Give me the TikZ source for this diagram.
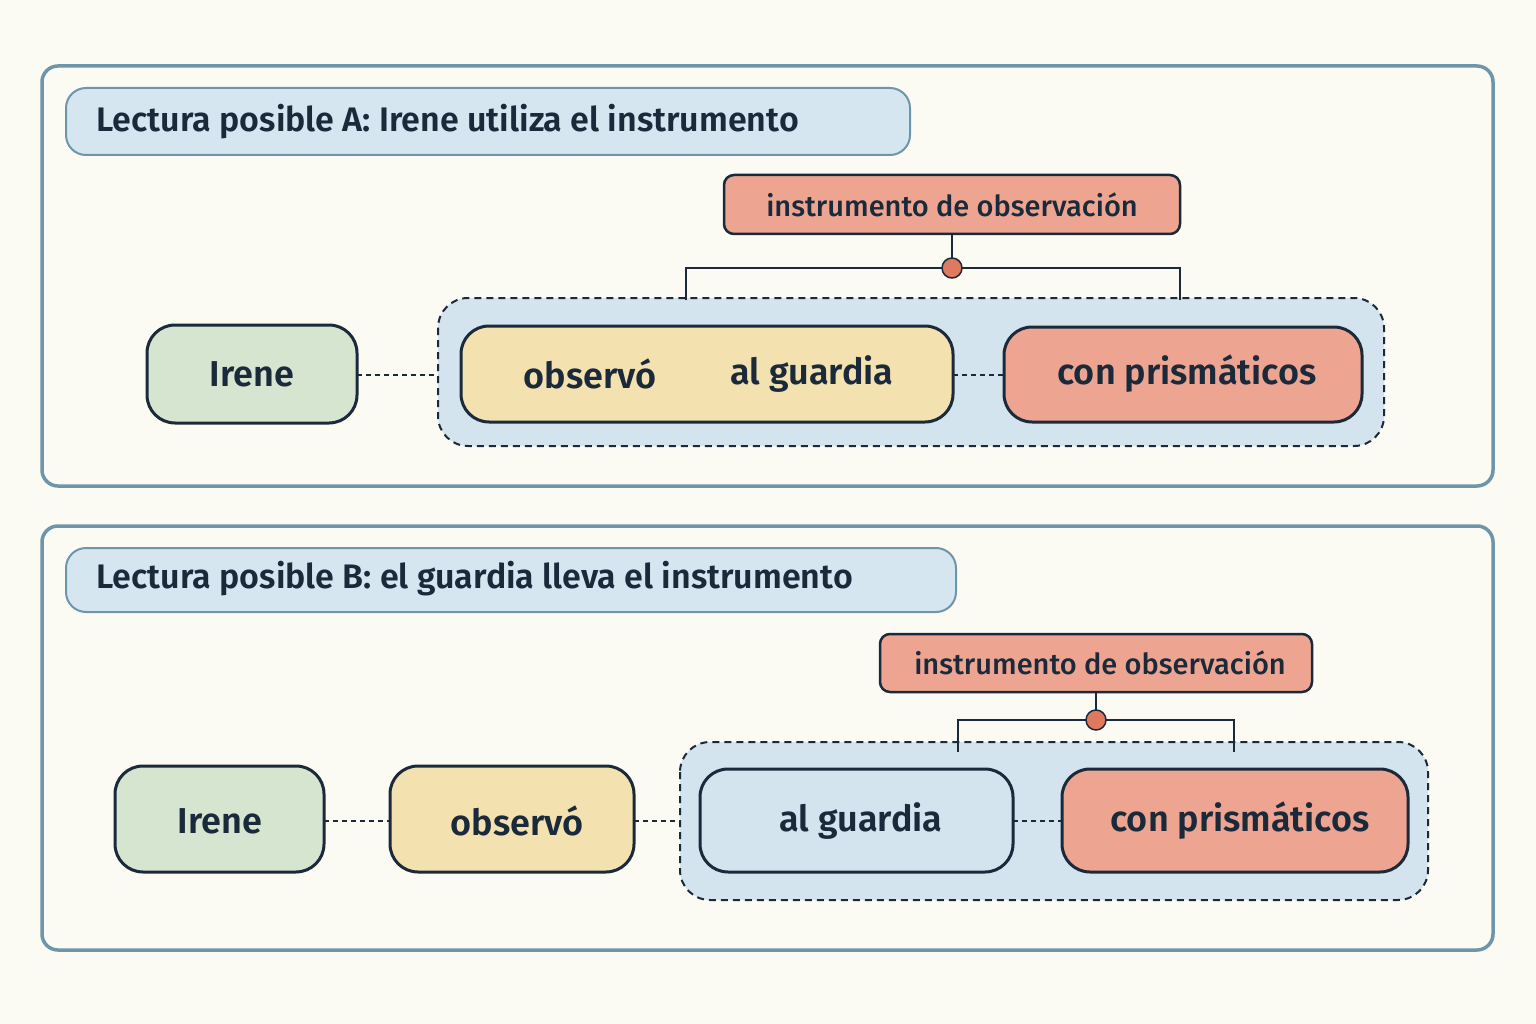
\documentclass[tikz,border=0pt]{standalone}
\usepackage{fontspec}
\setmainfont{Fira Sans}[UprightFont=* Medium,BoldFont=* SemiBold]
\definecolor{bg}{HTML}{FBFBF3}
\definecolor{panel}{HTML}{6F95AA}
\definecolor{ttl}{HTML}{D5E6F0}
\definecolor{grn}{HTML}{D6E5D0}
\definecolor{yel}{HTML}{F3E2B0}
\definecolor{red}{HTML}{EDA592}
\definecolor{blu}{HTML}{D3E4EE}
\definecolor{ink}{HTML}{1B2A3A}
\definecolor{dot}{HTML}{E07A5F}
\begin{document}
\begin{tikzpicture}[x=1pt,y=-1pt,
 panelS/.style={draw=panel,line width=3.5pt,rounded corners=16pt,fill=bg},
 titleS/.style={draw=panel,line width=2pt,rounded corners=20pt,fill=ttl},
 box/.style={draw=ink,line width=3pt,rounded corners=28pt},
 ibox/.style={draw=ink,line width=2.5pt,rounded corners=10pt,fill=red},
 grp/.style={draw=ink,line width=2pt,dash pattern=on 7pt off 5pt,rounded corners=30pt,fill=blu},
 dl/.style={draw=ink,line width=2pt,dash pattern=on 5pt off 4pt},
 br/.style={draw=ink,line width=2.5pt},
 txt/.style={font=\fontsize{36}{40}\selectfont\bfseries,text=ink},
 ttxt/.style={font=\fontsize{34}{38}\selectfont\bfseries,text=ink,anchor=west},
 itxt/.style={font=\fontsize{29}{32}\selectfont,text=ink}]
\fill[bg] (0,0) rectangle (1536,1024);
\useasboundingbox (0,0) rectangle (1536,1024);
% Panel A
\draw[panelS] (42,66) rectangle (1493,486);
\draw[titleS] (66,88) rectangle (910,155);
\node[ttxt] (tA) at (93,122) {Lectura posible A: Irene utiliza el instrumento};
\draw[ibox] (724,175) rectangle (1180,234);
\node[itxt] (iA) at (952,205) {instrumento de observación};
\draw[grp] (438,298) rectangle (1384,446);
\draw[box,fill=grn] (147,325) rectangle (357,423);
\node[txt] (ireneA) at (252,374) {Irene};
\draw[box,fill=yel] (461,326) rectangle (953,422);
\node[txt] (obsA) at (590,374) {observó};
\node[txt] (alA) at (812,374) {al guardia};
\draw[box,fill=red] (1004,327) rectangle (1362,422);
\node[txt] (conA) at (1187,374) {con prismáticos};
\coordinate (gA) at (952,268);
\draw[br] (952,234) -- (gA);
\draw[br] (686,300) -- (686,268) -- (1180,268) -- (1180,300);
\fill[dot,draw=ink,line width=1.5pt] (gA) circle (10);
\draw[dl] (357,375) -- (438,375);
\draw[dl] (953,375) -- (1004,375);
% Panel B
\draw[panelS] (42,526) rectangle (1493,950);
\draw[titleS] (66,548) rectangle (956,612);
\node[ttxt] (tB) at (93,579) {Lectura posible B: el guardia lleva el instrumento};
\draw[ibox] (880,634) rectangle (1312,692);
\node[itxt] (iB) at (1100,663) {instrumento de observación};
\draw[grp] (680,742) rectangle (1428,900);
\draw[box,fill=grn] (115,766) rectangle (324,872);
\node[txt] (ireneB) at (220,821) {Irene};
\draw[box,fill=yel] (390,766) rectangle (634,872);
\node[txt] (obsB) at (517,821) {observó};
\draw[box,fill=blu] (700,769) rectangle (1013,872);
\node[txt] (alB) at (861,821) {al guardia};
\draw[box,fill=red] (1062,769) rectangle (1408,872);
\node[txt] (conB) at (1240,821) {con prismáticos};
\coordinate (gB) at (1096,720);
\draw[br] (1096,692) -- (gB);
\draw[br] (958,752) -- (958,720) -- (1234,720) -- (1234,752);
\fill[dot,draw=ink,line width=1.5pt] (gB) circle (10);
\draw[dl] (324,821) -- (390,821);
\draw[dl] (634,821) -- (680,821);
\draw[dl] (1013,821) -- (1062,821);
\end{tikzpicture}
\end{document}
